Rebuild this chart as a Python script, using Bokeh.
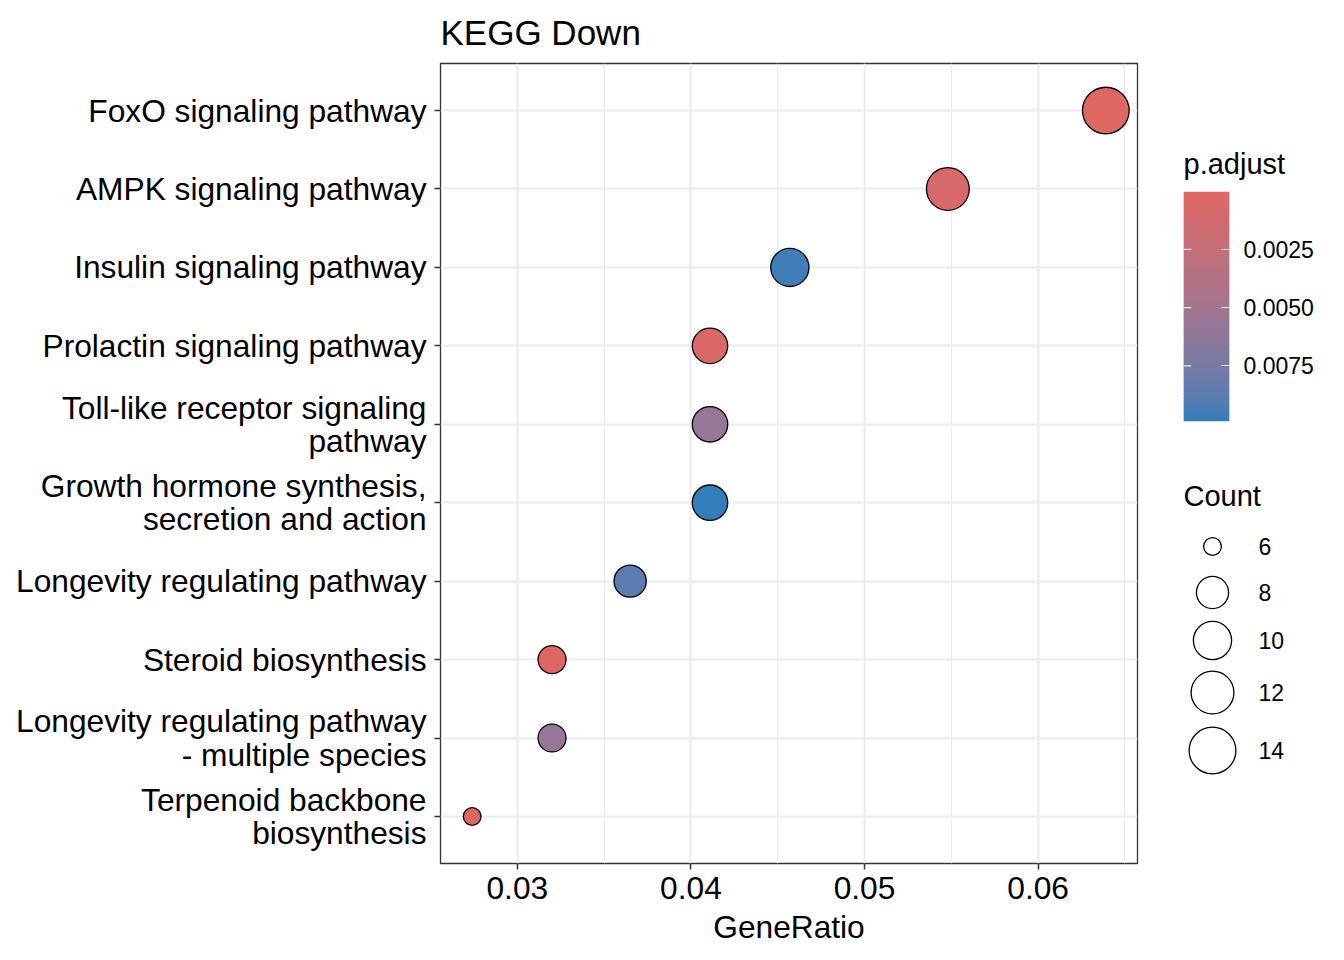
import numpy as np
from bokeh.plotting import figure
from bokeh.models import (ColumnDataSource, FactorRange, Range1d, LinearColorMapper,
                          FixedTicker, LinearAxis, NumeralTickFormatter)
from bokeh.layouts import row, column
from bokeh.transform import transform
from bokeh.core.properties import value
from bokeh.embed import file_html
from bokeh.resources import INLINE

# ---------------- data ----------------
terms = [
    "FoxO signaling pathway",
    "AMPK signaling pathway",
    "Insulin signaling pathway",
    "Prolactin signaling pathway",
    "Toll-like receptor signaling\npathway",
    "Growth hormone synthesis,\nsecretion and action",
    "Longevity regulating pathway",
    "Steroid biosynthesis",
    "Longevity regulating pathway\n- multiple species",
    "Terpenoid backbone\nbiosynthesis",
]
gene_ratio = [0.0639, 0.0548, 0.0457, 0.0411, 0.0411, 0.0411, 0.0365, 0.0320, 0.0320, 0.0274]
counts = [14, 12, 10, 9, 9, 9, 8, 7, 7, 6]
p_adjust = [0.000013, 0.0008, 0.0096, 0.0007, 0.0059, 0.00989, 0.0088, 0.0001, 0.0058, 0.0003]
x_ticks = [0.03, 0.04, 0.05, 0.06]
color_ticks = [0.0025, 0.0050, 0.0075]
count_breaks = [6, 8, 10, 12, 14]

title_text = "KEGG Down"
x_title = "GeneRatio"
color_title = "p.adjust"
size_title = "Count"

# ---------------- styling ----------------
FONT = "Liberation Sans"
LOW_COL = "#e06663"
HIGH_COL = "#327eba"
LW = 1.3


def _hex2rgb(h):
    h = h.lstrip("#")
    return [int(h[i:i + 2], 16) / 255 for i in (0, 2, 4)]


def _to_lab(h):
    rgb = _hex2rgb(h)
    lin = [c / 12.92 if c <= 0.04045 else ((c + 0.055) / 1.055) ** 2.4 for c in rgb]
    M = np.array([[0.4124, 0.3576, 0.1805], [0.2126, 0.7152, 0.0722], [0.0193, 0.1192, 0.9505]])
    X, Y, Z = M @ np.array(lin)
    wx, wy, wz = 0.95047, 1.0, 1.08883

    def f(t):
        return t ** (1 / 3) if t > (6 / 29) ** 3 else t / (3 * (6 / 29) ** 2) + 4 / 29

    fx, fy, fz = f(X / wx), f(Y / wy), f(Z / wz)
    return np.array([116 * fy - 16, 500 * (fx - fy), 200 * (fy - fz)])


def _from_lab(lab):
    L, a, b = lab
    fy = (L + 16) / 116
    fx = fy + a / 500
    fz = fy - b / 200

    def finv(t):
        return t ** 3 if t > 6 / 29 else 3 * (6 / 29) ** 2 * (t - 4 / 29)

    X, Y, Z = 0.95047 * finv(fx), finv(fy), 1.08883 * finv(fz)
    Minv = np.array([[3.2406, -1.5372, -0.4986], [-0.9689, 1.8758, 0.0415], [0.0557, -0.2040, 1.0570]])
    lin = Minv @ np.array([X, Y, Z])
    out = []
    for c in lin:
        c = min(max(c, 0), 1)
        s = 12.92 * c if c <= 0.0031308 else 1.055 * c ** (1 / 2.4) - 0.055
        out.append(int(round(min(max(s, 0), 1) * 255)))
    return "#%02x%02x%02x" % tuple(out)


la, lb = _to_lab(LOW_COL), _to_lab(HIGH_COL)
palette = [_from_lab(la + (lb - la) * t) for t in np.linspace(0, 1, 256)]

pmin, pmax = min(p_adjust), max(p_adjust)
mapper = LinearColorMapper(palette=palette, low=pmin, high=pmax)

cmin, cmax = min(counts), max(counts)


def dot_size(c):
    # ggplot-like area scale: outer diameter from 19px to 48px
    return 19 + 29 * np.sqrt((np.asarray(c, float) - cmin) / (cmax - cmin)) - LW


src = ColumnDataSource(dict(term=terms, ratio=gene_ratio, count=counts, padj=p_adjust,
                            size=dot_size(counts)))

span = max(gene_ratio) - min(gene_ratio)
x0, x1 = min(gene_ratio) - 0.05 * span, max(gene_ratio) + 0.05 * span

MAIN_W, SIDE_W, TOTAL_H = 1139, 197, 952
CB_H = 451

# ---------------- main panel ----------------
p = figure(width=MAIN_W, height=TOTAL_H,
           y_range=FactorRange(factors=terms[::-1], range_padding=0.1, range_padding_units="absolute"),
           x_range=Range1d(x0, x1),
           output_backend="svg", toolbar_location=None,
           min_border_left=440, min_border_right=2, min_border_top=63,
           min_border_bottom=TOTAL_H - 863,
           title=title_text, frame_align=False)
p.title.text_font = FONT
p.title.text_font_size = "35px"
p.title.text_font_style = "normal"
p.title.text_color = "black"
p.title.align = "left"
p.title.vertical_align = "top"
p.title.standoff = 19

p.background_fill_color = "white"
p.outline_line_color = "#333333"
p.outline_line_width = 1.3

minor = [x_ticks[0] - 0.005] + [t + 0.005 for t in x_ticks]
p.xaxis.ticker = FixedTicker(ticks=x_ticks, minor_ticks=minor)
p.xgrid.grid_line_color = "#EBEBEB"
p.xgrid.grid_line_width = 2
p.xgrid.minor_grid_line_color = "#EBEBEB"
p.xgrid.minor_grid_line_width = 1
p.ygrid.grid_line_color = "#EBEBEB"
p.ygrid.grid_line_width = 2

for ax in (p.xaxis, p.yaxis):
    ax.axis_line_color = None
    ax.major_tick_line_color = "#333333"
    ax.major_tick_line_width = 1.5
    ax.major_tick_out = 6
    ax.major_tick_in = 0
    ax.minor_tick_line_color = None
    ax.major_label_text_font = FONT
    ax.major_label_text_font_size = "31.7px"
    ax.major_label_text_color = "black"
p.yaxis.major_label_standoff = 8
p.yaxis.major_label_text_line_height = 0.93
p.xaxis.major_label_standoff = 7
p.xaxis.axis_label = x_title
p.xaxis.axis_label_text_font = FONT
p.xaxis.axis_label_text_font_size = "31.7px"
p.xaxis.axis_label_text_font_style = "normal"
p.xaxis.axis_label_text_color = "black"
p.xaxis.axis_label_standoff = 7

p.scatter("ratio", "term", source=src, size="size", fill_color=transform("padj", mapper),
          line_color="black", line_width=LW)

# ---------------- colour bar ----------------
cb = figure(width=SIDE_W, height=CB_H, x_range=Range1d(0, 1), y_range=Range1d(pmax, pmin),
            output_backend="svg", toolbar_location=None, x_axis_type=None, y_axis_type=None,
            min_border_left=44, min_border_right=SIDE_W - 44 - 46, min_border_top=191,
            min_border_bottom=CB_H - 191 - 230,
            title=color_title, frame_align=False)
cb.title.text_font = FONT
cb.title.text_font_size = "29px"
cb.title.text_font_style = "normal"
cb.title.text_color = "black"
cb.title.align = "left"
cb.title.standoff = 24
cb.outline_line_color = None
cb.grid.visible = False

edges = np.linspace(pmin, pmax, 161)
step = edges[1] - edges[0]
bands = ColumnDataSource(dict(top=edges[:-1], bottom=np.minimum(edges[1:] + 0.6 * step, pmax),
                              mid=(edges[:-1] + edges[1:]) / 2))
cb.quad(left=0, right=1, top="top", bottom="bottom", source=bands,
        fill_color=transform("mid", mapper), line_color=None)

# white ticks on the left edge of the bar
cb.segment(x0=0, x1=0.17, y0=color_ticks, y1=color_ticks, line_color="white",
           line_alpha=0.85, line_width=1.2)

ax = LinearAxis(ticker=FixedTicker(ticks=color_ticks),
                formatter=NumeralTickFormatter(format="0.0000"))
ax.axis_line_color = None
ax.major_tick_in = 8
ax.major_tick_out = 0
ax.major_tick_line_color = "white"
ax.major_tick_line_alpha = 0.85
ax.major_tick_line_width = 1.2
ax.minor_tick_line_color = None
ax.major_label_text_font = FONT
ax.major_label_text_font_size = "23px"
ax.major_label_standoff = 14
ax.major_label_text_color = "black"
cb.add_layout(ax, "right")

# ---------------- size legend ----------------
SZ_H = TOTAL_H - CB_H
sz = figure(width=SIDE_W, height=SZ_H, x_range=Range1d(0, SIDE_W), y_range=Range1d(SZ_H, 0),
            output_backend="svg", toolbar_location=None, x_axis_type=None, y_axis_type=None,
            min_border=0, frame_align=False)
sz.outline_line_color = None
sz.grid.visible = False

# legend layout (pixel positions within the legend panel)
key_x, lab_x, title_x, title_y = 73, 119, 44, 44
key_y = [95, 141, 189, 241, 299]

sz.text(x=[title_x], y=[title_y], text=[size_title], text_font=value(FONT), text_font_size="29px",
        text_baseline="middle", text_align="left", text_color="black")
leg = ColumnDataSource(dict(x=[key_x] * len(count_breaks), y=key_y, size=dot_size(count_breaks),
                            lx=[lab_x] * len(count_breaks), lab=[str(b) for b in count_breaks]))
sz.scatter("x", "y", source=leg, size="size", fill_color="white", line_color="black", line_width=LW)
sz.text("lx", "y", text="lab", source=leg, text_font=value(FONT), text_font_size="23px",
        text_baseline="middle", text_align="left", text_color="black")

layout = row(p, column(cb, sz))
open("out.html", "w").write(file_html(layout, INLINE))
